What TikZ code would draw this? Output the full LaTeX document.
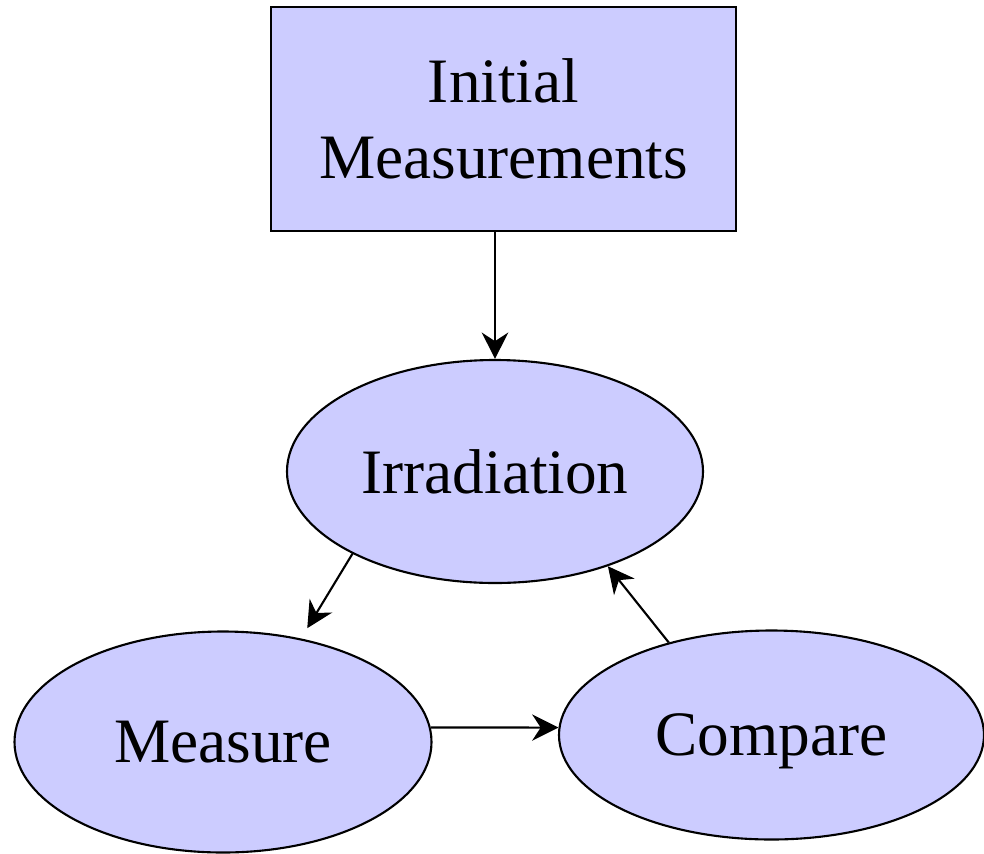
\documentclass[tikz,border=0pt]{standalone}
\usepackage{fontspec}
\setmainfont{Liberation Serif}
\usetikzlibrary{shapes.geometric,arrows.meta}
\definecolor{boxfill}{HTML}{CCCCFF}
\tikzset{
  stage/.style={draw, fill=boxfill, line width=0.6pt, inner sep=0pt,
    font=\fontsize{18}{21.6}\selectfont, align=center},
  oval/.style={stage, ellipse, text depth=0pt},
  flow/.style={-{Stealth[length=7.5pt,width=7.5pt]}, line width=0.6pt}
}
\begin{document}
\begin{tikzpicture}
        % irradiation loop, started by the initial measurements
        \useasboundingbox (0,0) rectangle (9.84,8.53);
        \node[stage, minimum width=4.65cm, minimum height=2.24cm] (init) at (5.035,7.34) {Initial\\Measurements};
        \node[oval, minimum width=4.16cm, minimum height=2.23cm] (irr) at (4.95,3.815) {Irradiation};
        \node[oval, minimum width=4.17cm, minimum height=2.21cm] (meas) at (2.23,1.11) {Measure};
        \node[oval, minimum width=4.25cm, minimum height=2.09cm] (comp) at (7.715,1.18) {Compare};
        \draw[flow] (irr.north |- init.south) -- (irr.north);
        \draw[flow, shorten >=0.12cm] (irr.210) -- (meas.53);
        \draw[flow] (meas.4) -- (comp.178);
        \draw[flow] (comp.138) -- (irr.320);
    \end{tikzpicture}
\end{document}
